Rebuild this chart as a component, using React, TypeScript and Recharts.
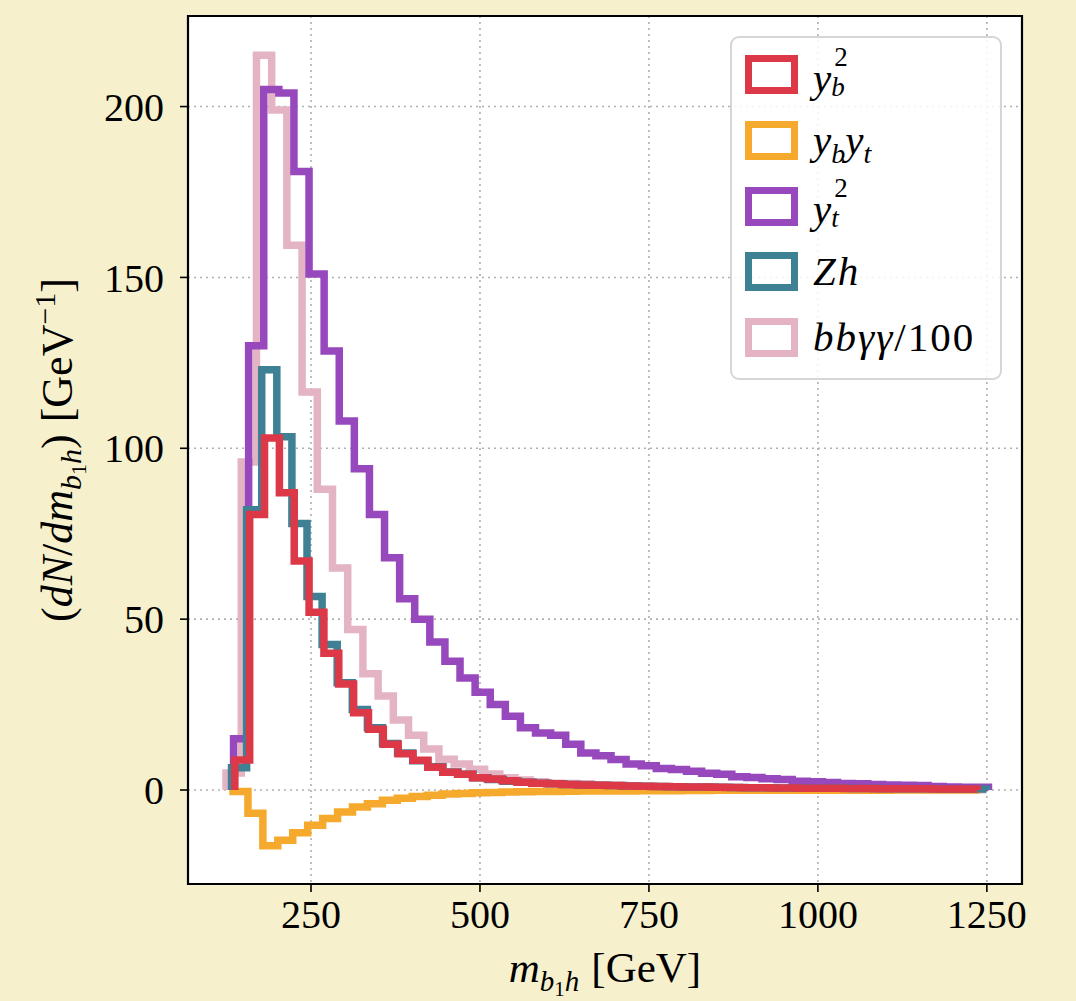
import React from "react";
import {
  LineChart,
  Line,
  XAxis,
  YAxis,
  CartesianGrid,
  Legend,
  ReferenceArea,
} from "recharts";

const X_TICKS = [250, 500, 750, 1000, 1250];
const Y_TICKS = [0, 50, 100, 150, 200];
const X_DOMAIN = [68, 1302];
const Y_DOMAIN = [-27.5, 226.5];

// every histogram has 50 bins: first edge and bin width in GeV, then bin heights
const YB2_START = 137.3;
const YB2_WIDTH = 21.97;
const YB2_VALUES = [
  8.8, 80.6, 103, 87, 67, 52, 40, 31, 22.6, 17.8,
  13.4, 10.6, 8.7, 6.7, 5.2, 4.6, 3.6, 3.2, 2.7, 2.3,
  2.0, 1.8, 1.6, 1.5, 1.4, 1.3, 1.2, 1.1, 1.0, 0.95,
  0.9, 0.85, 0.8, 0.75, 0.7, 0.65, 0.6, 0.6, 0.55, 0.5,
  0.5, 0.45, 0.45, 0.4, 0.4, 0.35, 0.35, 0.3, 0.3, 0.3,
];

const YBYT_START = 134.6;
const YBYT_WIDTH = 22.1;
const YBYT_VALUES = [
  -0.4, -6.8, -16.3, -14.7, -12.5, -10.3, -8.3, -6.4, -5.0, -4.0,
  -3.0, -2.4, -1.9, -1.5, -1.2, -1.0, -0.8, -0.7, -0.6, -0.5,
  -0.45, -0.4, -0.35, -0.3, -0.3, -0.25, -0.25, -0.2, -0.2, -0.2,
  -0.15, -0.15, -0.1, -0.1, -0.1, -0.1, -0.1, -0.05, -0.05, -0.05,
  -0.05, -0.05, -0.05, -0.05, 0, 0, 0, 0, 0, 0,
];

const YT2_START = 135.4;
const YT2_WIDTH = 22.34;
const YT2_VALUES = [
  15, 130, 205, 204, 181, 151, 128.5, 108, 94, 80.6,
  68, 56, 50, 43.3, 37.7, 32.8, 28.6, 25, 21.6, 18.2,
  16.7, 16, 13.4, 10.8, 10, 8.9, 7.6, 7.1, 6.3, 6.0,
  5.5, 4.9, 4.6, 3.9, 3.7, 3.3, 3.1, 2.6, 2.4, 2.2,
  1.9, 1.8, 1.6, 1.5, 1.4, 1.3, 1.0, 0.9, 0.8, 0.8,
];

const ZH_START = 132.4;
const ZH_WIDTH = 22.34;
const ZH_VALUES = [
  6.5, 82, 123, 103.4, 78, 56.6, 42.6, 31.4, 23.6, 18.2,
  13.6, 10.8, 8.6, 6.8, 5.3, 4.6, 3.6, 3.1, 2.6, 2.3,
  2.0, 1.8, 1.6, 1.5, 1.4, 1.3, 1.2, 1.1, 1.0, 0.95,
  0.9, 0.85, 0.8, 0.75, 0.7, 0.65, 0.6, 0.6, 0.55, 0.5,
  0.5, 0.45, 0.45, 0.4, 0.4, 0.35, 0.35, 0.3, 0.3, 0.3,
];

const BB_START = 124.3;
const BB_WIDTH = 22.5;
const BB_VALUES = [
  5, 96, 215, 199, 159.4, 116.5, 88, 65, 47, 34,
  27.5, 20.5, 16, 12, 9, 7.6, 6.1, 4.7, 3.6, 2.9,
  2.4, 2.0, 1.9, 1.8, 1.5, 1.3, 1.1, 1.0, 0.9, 0.8,
  0.7, 0.6, 0.55, 0.5, 0.45, 0.4, 0.35, 0.3, 0.3, 0.25,
  0.25, 0.2, 0.2, 0.2, 0.15, 0.15, 0.1, 0.1, 0.1, 0.1,
];

const FONT = '"Liberation Serif", "DejaVu Serif", serif';

// outline of a step histogram (like histtype="step"): up from 0, steps, back to 0
function stepPoints(start: number, width: number, values: number[]) {
  const pts = [{ x: start, y: 0 }];
  values.forEach((v, i) => pts.push({ x: start + i * width, y: v }));
  pts.push({ x: start + values.length * width, y: 0 });
  return pts;
}

const SupSub = ({ sup, sub }: { sup?: string; sub?: string }) => (
  <span
    style={{
      display: "inline-block",
      position: "relative",
      width: "0.5em",
      height: "1em",
    }}
  >
    {sup && (
      <span style={{ position: "absolute", left: 3, top: -7, fontSize: 27, lineHeight: 1, fontStyle: "normal" }}>
        {sup}
      </span>
    )}
    {sub && (
      <span style={{ position: "absolute", left: 0, top: 23, fontSize: 27, lineHeight: 1, fontStyle: "italic" }}>
        {sub}
      </span>
    )}
  </span>
);

const Sub = ({ children }: { children: React.ReactNode }) => (
  <span style={{ fontSize: 28, position: "relative", top: 9, fontStyle: "italic" }}>{children}</span>
);

const SERIES = [
  {
    key: "bb",
    color: "#e4b4c4",
    points: stepPoints(BB_START, BB_WIDTH, BB_VALUES),
    label: (
      <span style={{ letterSpacing: 2 }}>
        <i>bbγγ</i>/100
      </span>
    ),
  },
  {
    key: "ybyt",
    color: "#f5aa2d",
    points: stepPoints(YBYT_START, YBYT_WIDTH, YBYT_VALUES),
    label: (
      <span>
        <i>y</i>
        <Sub>b</Sub>
        <i>y</i>
        <Sub>t</Sub>
      </span>
    ),
  },
  {
    key: "yt2",
    color: "#9648bc",
    points: stepPoints(YT2_START, YT2_WIDTH, YT2_VALUES),
    label: (
      <span>
        <i>y</i>
        <SupSub sup="2" sub="t" />
      </span>
    ),
  },
  {
    key: "zh",
    color: "#3e8094",
    points: stepPoints(ZH_START, ZH_WIDTH, ZH_VALUES),
    label: (
      <span style={{ letterSpacing: 2 }}>
        <i>Zh</i>
      </span>
    ),
  },
  {
    key: "yb2",
    color: "#dc3848",
    points: stepPoints(YB2_START, YB2_WIDTH, YB2_VALUES),
    label: (
      <span>
        <i>y</i>
        <SupSub sup="2" sub="b" />
      </span>
    ),
  },
];

const LEGEND_ORDER = ["yb2", "ybyt", "yt2", "zh", "bb"];

function LegendBox() {
  return (
    <div
      style={{
        boxSizing: "border-box",
        width: 272,
        height: 344,
        border: "2.5px solid #d6d6d6",
        borderRadius: 9,
        background: "rgba(255,255,255,0.85)",
        padding: "4px 0 0 13px",
        fontFamily: FONT,
        fontSize: 41,
        color: "#000",
      }}
    >
      {LEGEND_ORDER.map((k) => {
        const s = SERIES.find((d) => d.key === k)!;
        return (
          <div key={k} style={{ display: "flex", alignItems: "center", height: 65.7 }}>
            <div
              style={{
                boxSizing: "border-box",
                width: 53,
                height: 39,
                border: `7.5px solid ${s.color}`,
                marginRight: 15,
                flexShrink: 0,
              }}
            />
            <div style={{ lineHeight: 1, whiteSpace: "nowrap" }}>{s.label}</div>
          </div>
        );
      })}
    </div>
  );
}

function XTitle(props: any) {
  const vb = props.viewBox || { x: 188, y: 884, width: 834 };
  return (
    <text x={vb.x + vb.width / 2} y={vb.y + 98} textAnchor="middle" fontFamily={FONT} fontSize={43} fill="#000">
      <tspan fontStyle="italic">m</tspan>
      <tspan fontStyle="italic" fontSize={29} dy={9}>b</tspan>
      <tspan fontSize={21} dy={5}>1</tspan>
      <tspan fontStyle="italic" fontSize={29} dy={-5}>h</tspan>
      <tspan dy={-9} dx={12}>[GeV]</tspan>
    </text>
  );
}

function YTitle(props: any) {
  const vb = props.viewBox || { x: 0, y: 16, height: 868 };
  const cx = 72;
  const cy = vb.y + vb.height / 2;
  return (
    <text
      x={cx}
      y={cy}
      transform={`rotate(-90 ${cx} ${cy})`}
      textAnchor="middle"
      fontFamily={FONT}
      fontSize={44}
      fill="#000"
    >
      <tspan>(</tspan>
      <tspan fontStyle="italic">dN</tspan>
      <tspan>/</tspan>
      <tspan fontStyle="italic">dm</tspan>
      <tspan fontStyle="italic" fontSize={30} dy={9}>b</tspan>
      <tspan fontSize={22} dy={5}>1</tspan>
      <tspan fontStyle="italic" fontSize={30} dy={-5}>h</tspan>
      <tspan dy={-9}>)</tspan>
      <tspan dx={12}>[GeV</tspan>
      <tspan fontSize={30} dy={-17}>−1</tspan>
      <tspan dy={17}>]</tspan>
    </text>
  );
}

const tickStyle = { fontFamily: FONT, fontSize: 40, fill: "#000" };

export default function App() {
  return (
    <div
      style={{
        position: "absolute",
        left: 0,
        top: 0,
        width: 1076,
        height: 1001,
        background: "#f7f0cd",
      }}
    >
      <LineChart width={1076} height={1001} margin={{ top: 16, right: 54, bottom: 0, left: 0 }}>
        <CartesianGrid
          fill="#ffffff"
          fillOpacity={1}
          stroke="#b0b0b0"
          strokeWidth={1.6}
          strokeDasharray="2 4"
        />
        <XAxis
          dataKey="x"
          type="number"
          domain={X_DOMAIN}
          ticks={X_TICKS}
          allowDataOverflow
          height={117}
          axisLine={false}
          tickLine={{ stroke: "#000", strokeWidth: 1.6 }}
          tickSize={8}
          tickMargin={8}
          tick={tickStyle}
          label={{ content: XTitle }}
        />
        <YAxis
          dataKey="y"
          type="number"
          domain={Y_DOMAIN}
          ticks={Y_TICKS}
          allowDataOverflow
          width={188}
          axisLine={false}
          tickLine={{ stroke: "#000", strokeWidth: 1.6 }}
          tickSize={8}
          tickMargin={16}
          tick={tickStyle}
          label={{ content: YTitle }}
        />
        {SERIES.map((s) => (
          <Line
            key={s.key}
            data={s.points}
            dataKey="y"
            type="stepAfter"
            stroke={s.color}
            strokeWidth={7.5}
            strokeLinejoin="miter"
            strokeLinecap="butt"
            dot={false}
            activeDot={false}
            isAnimationActive={false}
          />
        ))}
        <ReferenceArea
          x1={X_DOMAIN[0]}
          x2={X_DOMAIN[1]}
          y1={Y_DOMAIN[0]}
          y2={Y_DOMAIN[1]}
          fill="none"
          stroke="#000"
          strokeWidth={2.2}
        />
        <Legend
          layout="horizontal"
          verticalAlign="middle"
          align="center"
          content={() => <LegendBox />}
          wrapperStyle={{ left: 730, top: 36, width: 272, height: 344 }}
        />
      </LineChart>
    </div>
  );
}
